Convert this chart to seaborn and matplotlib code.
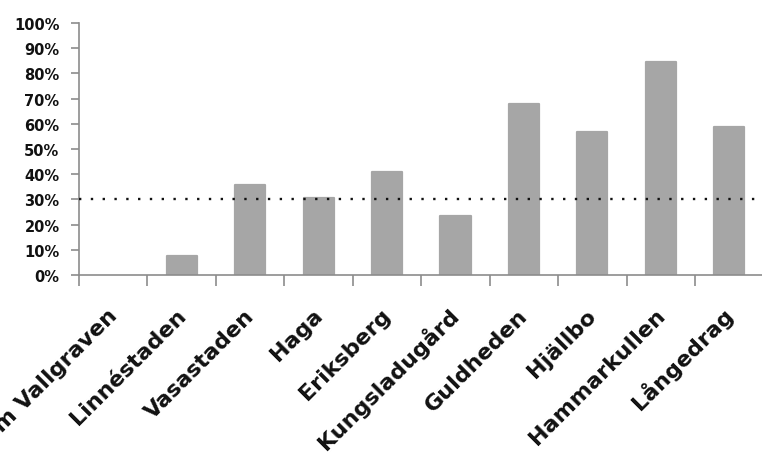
import matplotlib
matplotlib.use("Agg")
import matplotlib.pyplot as plt
import matplotlib.transforms as mtransforms
import seaborn as sns
import pandas as pd

# Share per district (percent)
districts = ["Inom Vallgraven", "Linnéstaden", "Vasastaden", "Haga", "Eriksberg",
             "Kungsladugård", "Guldheden", "Hjällbo", "Hammarkullen", "Långedrag"]
shares = [0, 7.4, 35.7, 30.4, 40.7, 23.5, 67.7, 56.6, 84.7, 58.6]
reference_level = 30
y_ticks = list(range(0, 101, 10))

sns.set_style("white")
plt.rcParams["font.family"] = ["DejaVu Sans"]

df = pd.DataFrame({"district": districts, "share": shares})

fig = plt.figure(figsize=(7.62, 4.56), dpi=100)
ax = fig.add_axes([79 / 762, 1 - 276 / 456, 1 - 79 / 762 + 0.002, (276 - 24) / 456])

sns.barplot(data=df, x="district", y="share", color="#a6a6a6", width=0.44,
            saturation=1, ax=ax, edgecolor="#a6a6a6", linewidth=1.6)
for bar in ax.patches:
    bar.set_joinstyle("round")
    if bar.get_height() == 0:
        bar.set_linewidth(0)

ax.axhline(reference_level, color="#111111", linestyle=(0, (1, 4)), linewidth=1.7,
           zorder=5)

ax.set_ylim(0, 100)
ax.set_xlim(-0.5, len(districts) - 0.5)
ax.set_yticks(y_ticks)
ax.set_yticklabels([f"{t}%" for t in y_ticks], fontsize=10.5, fontweight="bold",
                   color="#111111")

# category separators as ticks on the x axis
ax.set_xticks([i - 0.5 for i in range(len(districts) + 1)])
ax.set_xticklabels([])
ax.tick_params(axis="x", bottom=True, length=8, width=1.2,
               color="#8c8c8c", direction="out")
ax.tick_params(axis="y", left=True, length=6, width=1.2, color="#8c8c8c",
               direction="out", pad=8)

# rotated district names, baseline ending just right of each bar's centre
label_trans = ax.get_xaxis_transform() + mtransforms.ScaledTranslation(
    5 / 100, -41 / 100, fig.dpi_scale_trans)
for i, name in enumerate(districts):
    ax.text(i, 0, name, transform=label_trans, rotation=45, ha="right",
            va="baseline", rotation_mode="anchor", fontsize=16,
            fontweight="bold", color="#111111", clip_on=False)

ax.set_xlabel("")
ax.set_ylabel("")
for side in ["top", "right"]:
    ax.spines[side].set_visible(False)
for side in ["left", "bottom"]:
    ax.spines[side].set_color("#8c8c8c")
    ax.spines[side].set_linewidth(1.2)

fig.savefig("out.png", dpi=100)
